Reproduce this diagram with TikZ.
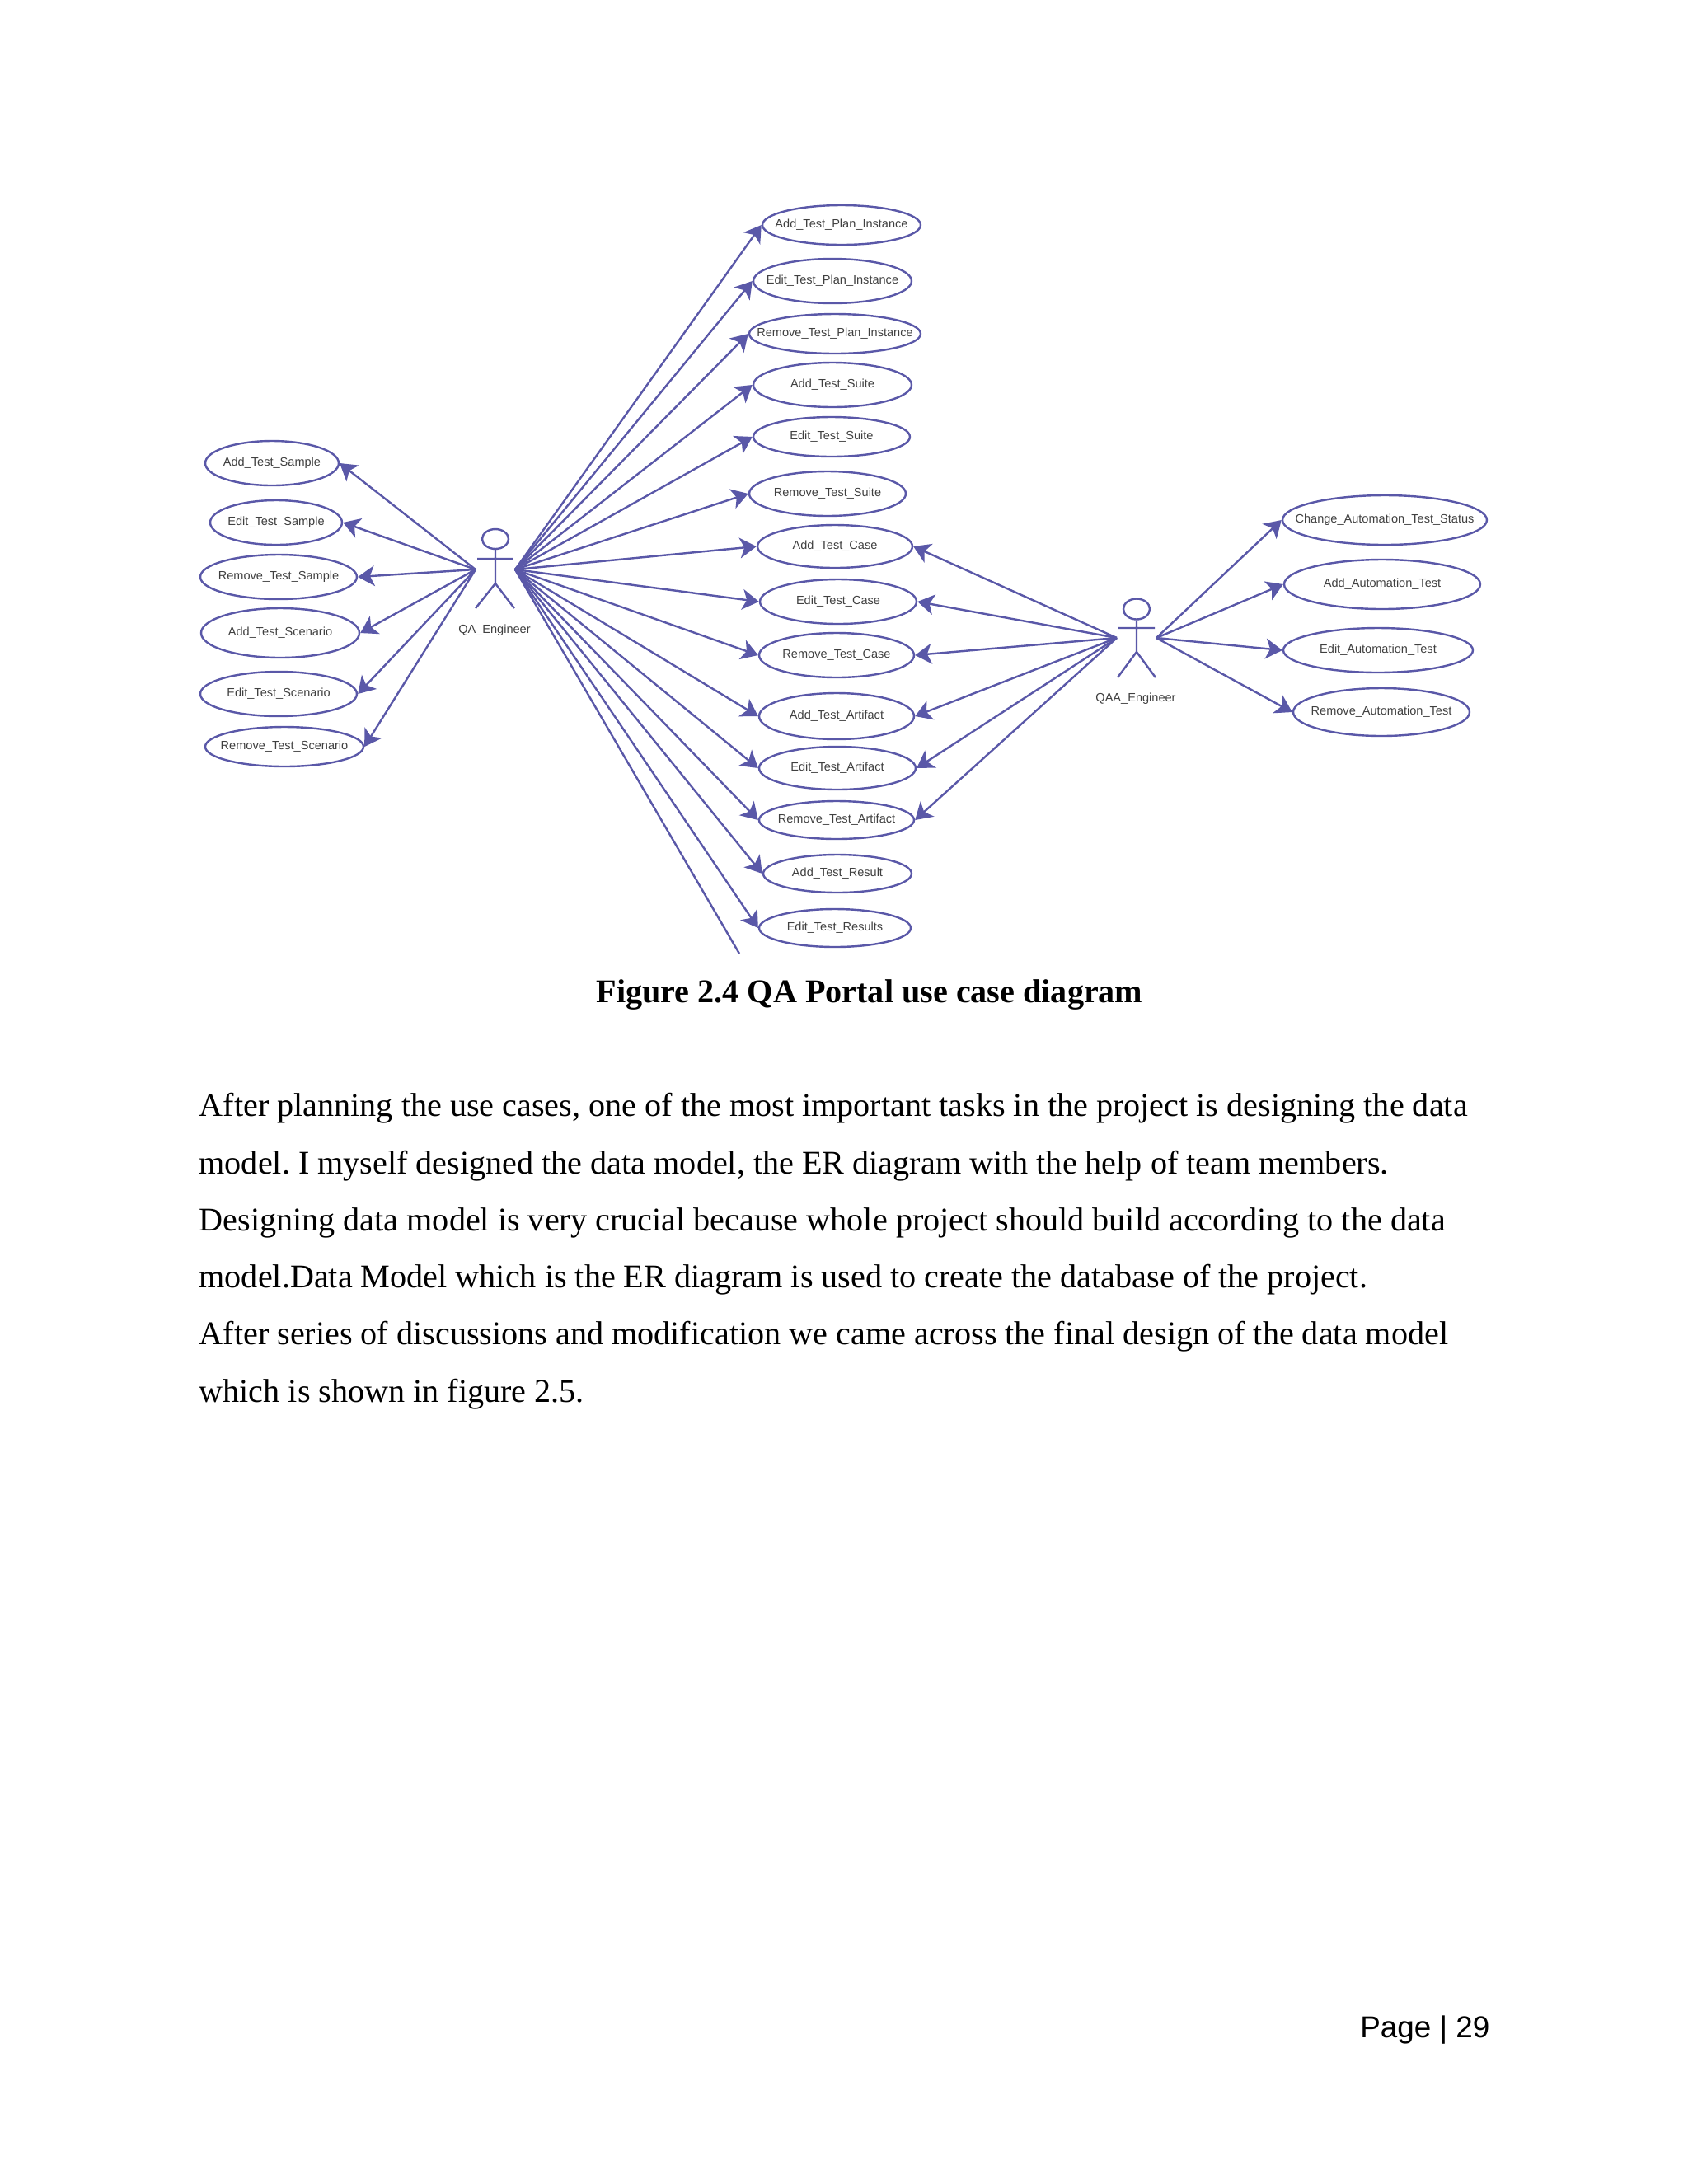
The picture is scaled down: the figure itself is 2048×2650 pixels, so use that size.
\documentclass[tikz,border=0pt]{standalone}
\usepackage{fontspec}
\setmainfont{Liberation Serif}
\newfontfamily\arialf{Liberation Sans}
\usetikzlibrary{arrows.meta,shapes.geometric}
\definecolor{umlblue}{HTML}{5A58A8}
\definecolor{umltext}{HTML}{404040}
\newcommand{\pxu}{0.29883pt}
\tikzset{
  ucline/.style={draw=umlblue,line width=0.72pt},
  flow/.style={ucline,-{Stealth[length=6pt,width=7.4pt,inset=1.6pt]}},
  usecase/.style={ucline,shape=ellipse,inner sep=0pt,font=\arialf\fontsize{4.35}{5}\selectfont,text=umltext},
  actorlabel/.style={font=\arialf\fontsize{4.35}{5}\selectfont,text=umltext,inner sep=0pt},
  para/.style={anchor=base west,inner sep=0pt,font=\fontsize{12}{14}\selectfont,text=black}
}
\newcommand{\uc}[6]{\node[usecase,minimum width={2*#4*\pxu},minimum height={2*#5*\pxu}] (#1) at (#2,#3) {\makebox[0pt]{\raisebox{-0.5pt}{#6}}};}
\begin{document}
\frenchspacing
\begin{tikzpicture}[x=\pxu,y=-\pxu]
\useasboundingbox (0,0) rectangle (2048,2650);
\fill[white] (0,0) rectangle (2048,2650);
% left use cases
\uc{ats}{330}{562}{81}{27}{Add\_Test\_Sample}
\uc{ets}{335}{634}{80}{27}{Edit\_Test\_Sample}
\uc{rts}{338}{700}{95}{27}{Remove\_Test\_Sample}
\uc{atsc}{340}{768}{96}{30}{Add\_Test\_Scenario}
\uc{etsc}{338}{842}{95}{27}{Edit\_Test\_Scenario}
\uc{rtsc}{345}{906}{96}{24}{Remove\_Test\_Scenario}
% middle use cases
\uc{atpi}{1021}{273}{96}{24}{Add\_Test\_Plan\_Instance}
\uc{etpi}{1010}{341}{96}{27}{Edit\_Test\_Plan\_Instance}
\uc{rtpi}{1013}{405}{104}{24}{Remove\_Test\_Plan\_Instance}
\uc{atsu}{1010}{467}{96}{27}{Add\_Test\_Suite}
\uc{etsu}{1009}{530}{95}{24}{Edit\_Test\_Suite}
\uc{rtsu}{1004}{599}{95}{27}{Remove\_Test\_Suite}
\uc{atc}{1013}{663}{94}{26}{Add\_Test\_Case}
\uc{etc}{1017}{730}{95}{27}{Edit\_Test\_Case}
\uc{rtc}{1015}{795}{94}{27}{Remove\_Test\_Case}
\uc{ata}{1015}{869}{94}{28}{Add\_Test\_Artifact}
\uc{eta}{1016}{932}{95}{26}{Edit\_Test\_Artifact}
\uc{rta}{1015}{995}{94}{23}{Remove\_Test\_Artifact}
\uc{atr}{1016}{1060}{90}{23}{Add\_Test\_Result}
\uc{etr}{1013}{1126}{92}{23}{Edit\_Test\_Results}
% right use cases
\uc{cats}{1680}{631}{124}{30}{Change\_Automation\_Test\_Status}
\uc{aat}{1677}{709}{119}{30}{Add\_Automation\_Test}
\uc{eat}{1672}{789}{115}{27}{Edit\_Automation\_Test}
\uc{rat}{1676}{864}{107}{29}{Remove\_Automation\_Test}
% QA actor
\node[ucline,shape=ellipse,inner sep=0pt,minimum width={32*\pxu},minimum height={24*\pxu}] (qahead) at (601,654) {};
\coordinate (qaL) at (577,691);
\coordinate (qaR) at (625,691);
\coordinate (qaCut) at (897,1157);
\draw[ucline] (qahead.south) -- (601,708) (579,678) -- (622,678) (577,738) -- (601,708) -- (624,738);
\node[actorlabel] (qalabel) at (600,765) {QA\_Engineer};
% QAA actor
\node[ucline,shape=ellipse,inner sep=0pt,minimum width={32*\pxu},minimum height={25*\pxu}] (qaahead) at (1379,739) {};
\coordinate (qaaL) at (1355,774);
\coordinate (qaaR) at (1403,774);
\draw[ucline] (qaahead.south) -- (1379,791) (1356,762) -- (1401,762) (1356,822) -- (1379,791) -- (1402,822);
\node[actorlabel] (qaalabel) at (1378,848) {QAA\_Engineer};
% connectors
\foreach \t in {ats,ets,rts,atsc,etsc,rtsc} \draw[flow] (qaL) -- (\t.east);
\foreach \t in {atpi,etpi,rtpi,atsu,etsu,rtsu,atc,etc,rtc,ata,eta,rta,atr,etr} \draw[flow] (qaR) -- (\t.west);
\draw[ucline] (qaR) -- (qaCut);
\foreach \t in {atc,etc,rtc,ata,eta,rta} \draw[flow] (qaaL) -- (\t.east);
\foreach \t in {cats,aat,eat,rat} \draw[flow] (qaaR) -- (\t.west);
% caption and text
\node[anchor=base,inner sep=0pt,font=\bfseries\fontsize{12}{14}\selectfont,text=black] (caption) at (1055,1216) {Figure 2.4 QA Portal use case diagram};
\node[para] (l1) at (241,1354.5) {After planning the use cases, one of the most important tasks in the project is designing the data};
\node[para] (l2) at (241,1424) {model. I myself designed the data model, the ER diagram with the help of team members.};
\node[para] (l3) at (241,1493.2) {Designing data model is very crucial because whole project should build according to the data};
\node[para] (l4) at (241,1562.5) {model.Data Model which is the ER diagram is used to create the database of the project.};
\node[para] (l5) at (241,1631.8) {After series of discussions and modification we came across the final design of the data model};
\node[para] (l6) at (241,1701) {which is shown in figure 2.5.};
\node[anchor=base east,inner sep=0pt,font=\arialf\fontsize{11}{13}\selectfont,text=black] (pageno) at (1808,2472) {Page | 29};
\end{tikzpicture}
\end{document}
